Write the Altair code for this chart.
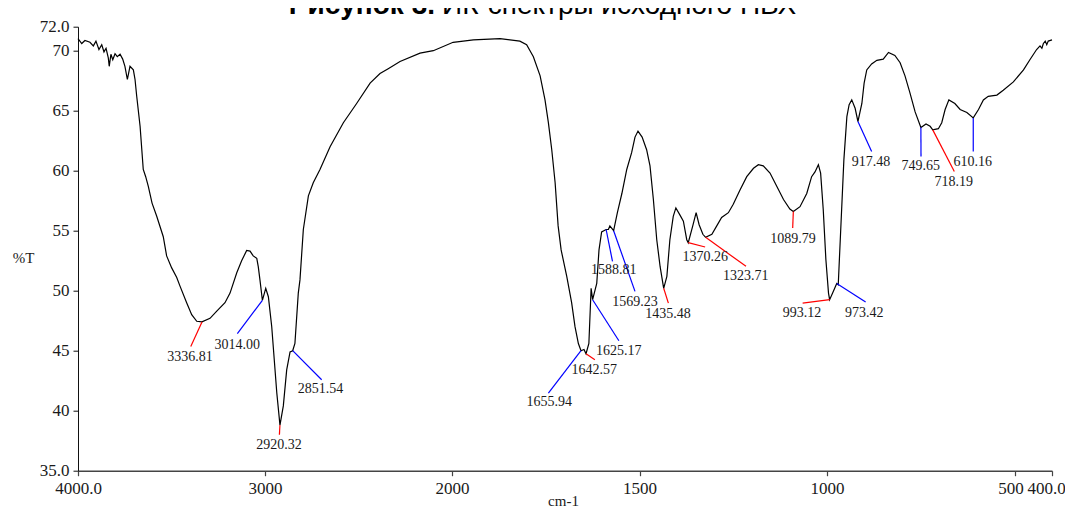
import altair as alt
import pandas as pd

# ---- spectrum (wavenumber, %T) ----
wavenumber = [4000, 3980, 3963, 3936, 3918, 3904, 3888, 3873, 3861, 3850, 3838, 3833,
              3824, 3814, 3802, 3790, 3775, 3761, 3749, 3736, 3722, 3704, 3695, 3686,
              3668, 3651, 3638, 3624, 3604, 3579, 3544, 3526, 3499, 3472, 3455, 3419,
              3392, 3365, 3337, 3294, 3258, 3214, 3187, 3151, 3125, 3098, 3080, 3063,
              3044, 3036, 3027, 3014, 2996, 2982, 2964, 2937, 2920, 2902, 2884, 2866,
              2852, 2840, 2822, 2813, 2795, 2768, 2742, 2706, 2652, 2581, 2510, 2438,
              2385, 2341, 2278, 2171, 2100, 1997, 1943, 1872, 1819, 1801, 1783, 1765,
              1752, 1743, 1734, 1725, 1717, 1709, 1694, 1681, 1672, 1663, 1656, 1648,
              1642.6, 1635, 1629, 1625, 1614, 1608, 1601, 1589, 1583, 1579, 1569, 1559,
              1547, 1534, 1521, 1512, 1504, 1493, 1481, 1472, 1463, 1454, 1445, 1435.5,
              1427, 1419, 1410, 1403, 1392, 1383, 1374, 1370, 1358, 1349, 1341, 1331,
              1323.7, 1307, 1294, 1281, 1263, 1250, 1232, 1214, 1196, 1183, 1170, 1152,
              1134, 1116, 1099, 1089.8, 1072, 1054, 1041, 1032, 1023, 1017, 1010, 1003,
              996, 993, 985, 974, 970, 967, 961, 955, 947, 941, 934, 925,
              917.5, 907, 901, 894, 881, 867, 850, 836, 819, 805, 792, 779,
              765, 749.65, 736, 725, 718, 703, 694, 685, 675, 659, 645, 627,
              610, 596, 583, 570, 547, 530, 503, 476, 459, 441, 432, 427,
              423, 418, 414, 410, 400]
transmittance = [71.0, 70.6, 70.85, 70.7, 70.4, 70.8, 70.1, 70.5, 69.9, 70.2, 69.4, 68.7,
                 69.7, 69.25, 69.75, 69.5, 69.7, 69.3, 68.7, 67.6, 68.7, 68.4, 67.6, 66.2,
                 63.7, 60.1, 59.5, 58.7, 57.3, 56.2, 54.5, 52.9, 51.9, 51.1, 50.4, 49.0,
                 48.0, 47.45, 47.4, 47.7, 48.3, 49.0, 49.8, 51.5, 52.5, 53.35, 53.3, 52.9,
                 52.7, 52.0, 50.9, 49.2, 50.2, 49.5, 47.0, 41.5, 38.8, 40.4, 43.4, 44.9,
                 45.0, 45.6, 49.8, 50.9, 55.1, 57.9, 59.0, 60.1, 62.0, 64.0, 65.6, 67.3,
                 68.1, 68.5, 69.1, 69.8, 70.0, 70.7, 70.9, 71.0, 70.8, 70.5, 69.5, 67.9,
                 65.9, 64.0, 61.75, 59.0, 55.4, 53.4, 51.2, 49.0, 47.0, 45.6, 45.0, 45.1,
                 44.75, 45.6, 50.2, 49.25, 50.6, 53.4, 54.9, 55.1, 55.1, 55.4, 55.0, 56.5,
                 58.1, 60.1, 61.5, 62.8, 63.3, 62.8, 61.75, 60.4, 57.6, 54.25, 52.0, 50.2,
                 51.2, 54.25, 56.2, 56.9, 56.3, 55.8, 54.25, 54.0, 55.4, 56.5, 55.5, 54.7,
                 54.45, 54.7, 55.4, 56.1, 56.5, 57.2, 58.4, 59.5, 60.2, 60.5, 60.4, 59.8,
                 58.7, 57.6, 56.8, 56.6, 57.0, 58.1, 59.5, 59.9, 60.5, 59.8, 56.75, 52.6,
                 49.8, 49.25, 49.8, 50.6, 50.5, 52.6, 56.75, 60.9, 64.5, 65.5, 65.9, 65.2,
                 64.1, 65.6, 67.3, 68.4, 68.9, 69.2, 69.3, 69.85, 69.6, 69.0, 67.9, 66.5,
                 64.9, 63.6, 63.9, 63.7, 63.4, 63.5, 64.0, 65.1, 65.9, 65.6, 65.1, 64.85,
                 64.4, 65.1, 65.9, 66.2, 66.3, 66.7, 67.4, 68.4, 69.25, 70.1, 70.4, 70.2,
                 70.6, 70.8, 70.5, 70.8, 70.9]

# ---- peak annotations ----
peak_labels = ["3336.81", "3014.00", "2920.32", "2851.54", "1655.94", "1642.57",
               "1625.17", "1588.81", "1569.23", "1435.48", "1370.26", "1323.71",
               "1089.79", "993.12", "973.42", "917.48", "749.65", "718.19", "610.16"]
peak_w = [3337, 3014, 2920, 2852, 1656, 1642.6, 1625, 1589, 1569, 1435.5, 1370, 1323.7,
          1089.8, 993, 974, 917.5, 749.65, 718, 610]
peak_t = [47.4, 49.2, 38.8, 45.0, 45.0, 44.75, 49.25, 55.1, 55.0, 50.2, 54.0, 54.45,
          56.6, 49.25, 50.6, 64.1, 63.6, 63.4, 64.4]
lead_w = [3397, 3148, 2923, 2697, 1743, 1619, 1555, 1572, 1512, 1423, 1325, 1216,
          1091.5, 1065, 897, 881, 749.3, 660.5, 610]
lead_t = [45.36, 46.42, 38.0, 42.58, 41.47, 44.25, 45.83, 52.44, 49.94, 48.97, 53.64, 52.03,
          55.23, 48.97, 49.06, 61.6, 61.19, 59.94, 61.6]
text_w = [3401, 3149, 2925, 2703, 1741, 1620.5, 1555.5, 1568.5, 1512, 1424, 1325, 1217,
          1090.7, 1067, 900.5, 883, 750, 662, 611.5]
text_t = [44.48, 45.48, 37.17, 41.79, 40.71, 43.42, 45.0, 51.75, 49.08, 48.08, 52.79, 51.23,
          54.33, 48.17, 48.17, 60.71, 60.42, 59.04, 60.75]
lead_color = ["red", "blue", "red", "blue", "blue", "red", "blue", "blue", "blue", "red",
              "red", "red", "red", "red", "blue", "blue", "blue", "red", "blue"]

x_ticks = [4000, 3000, 2000, 1500, 1000, 500, 400]
y_ticks = [35, 40, 45, 50, 55, 60, 65, 70, 72]

title_bold = "Рисунок 3."
title_rest = "ИК-спектры исходного ПВХ"

spec = pd.DataFrame({"w": wavenumber, "t": transmittance})
ann = pd.DataFrame({"label": peak_labels, "pw": peak_w, "pt": peak_t,
                    "lw": lead_w, "lt": lead_t, "tw": text_w, "tt": text_t,
                    "col": ["#ff0000" if c == "red" else "#0000ff" for c in lead_color]})

W, H = 974, 444
SERIF = "Liberation Serif"

xscale = alt.Scale(domain=[4000, 2000, 400], range=[0, 374, W], nice=False, zero=False)
yscale = alt.Scale(domain=[35, 72], nice=False, zero=False)

x_axis = alt.Axis(values=x_ticks,
                  labelExpr="datum.value == 4000 ? '4000.0' : (datum.value == 400 ? '400.0' : format(datum.value, 'd'))",
                  labelOffset={"condition": [{"test": "datum.value == 400", "value": -6},
                                             {"test": "datum.value == 500", "value": -4}],
                               "value": 0},
                  grid=False, tickSize=5, labelFont=SERIF, labelFontSize=17, labelColor="#1a1a1a",
                  domainColor="#444444", tickColor="#444444", domainWidth=1.5, tickWidth=1.2,
                  labelOverlap=False, labelFlush=False, labelPadding=5,
                  title="cm-1", titleFont=SERIF, titleFontSize=15, titleFontWeight="normal",
                  titleColor="#1a1a1a", titleX=485, titleY=35, titleBaseline="alphabetic",
                  titleAlign="center")
y_axis = alt.Axis(values=y_ticks,
                  labelExpr="datum.value == 35 ? '35.0' : (datum.value == 72 ? '72.0' : format(datum.value, 'd'))",
                  grid=False, tickSize=5, labelFont=SERIF, labelFontSize=17, labelColor="#1a1a1a",
                  domainColor="#111111", tickColor="#111111", domainWidth=1, tickWidth=1,
                  labelOverlap=False, labelFlush=False, labelPadding=4,
                  title="%T", titleFont=SERIF, titleFontSize=15, titleFontWeight="normal",
                  titleColor="#1a1a1a", titleAngle=0, titleX=-55, titleY=231,
                  titleAlign="center", titleBaseline="middle")

line = alt.Chart(spec).mark_line(color="black", strokeWidth=1.2).encode(
    x=alt.X("w:Q", scale=xscale, axis=x_axis),
    y=alt.Y("t:Q", scale=yscale, axis=y_axis),
)

leaders = alt.Chart(ann).mark_rule(strokeWidth=1.2).encode(
    x="pw:Q", y="pt:Q", x2="lw:Q", y2="lt:Q",
    color=alt.Color("col:N", scale=None),
)

labels = alt.Chart(ann).mark_text(font=SERIF, fontSize=14, color="#1a1a1a",
                                  align="center", baseline="middle").encode(
    x="tw:Q", y="tt:Q", text="label:N",
)

t1 = alt.Chart(pd.DataFrame({"s": [title_bold]})).mark_text(
    font="Liberation Sans", fontSize=28, fontWeight="bold", align="right",
    baseline="alphabetic", color="black").encode(
    x=alt.value(357), y=alt.value(-13), text="s:N")
t2 = alt.Chart(pd.DataFrame({"s": [title_rest]})).mark_text(
    font="Liberation Sans", fontSize=28, fontWeight="normal", align="left",
    baseline="alphabetic", color="black").encode(
    x=alt.value(364), y=alt.value(-13), text="s:N")

chart = alt.layer(line, leaders, labels, t1, t2).properties(
    width=W, height=H,
    autosize=alt.AutoSizeParams(type="none"),
    padding={"left": 70, "top": 18.7, "right": 13, "bottom": 38.3},
).configure_view(stroke=None)

chart.save("out.html", embed_options={"renderer": "svg", "actions": False})
